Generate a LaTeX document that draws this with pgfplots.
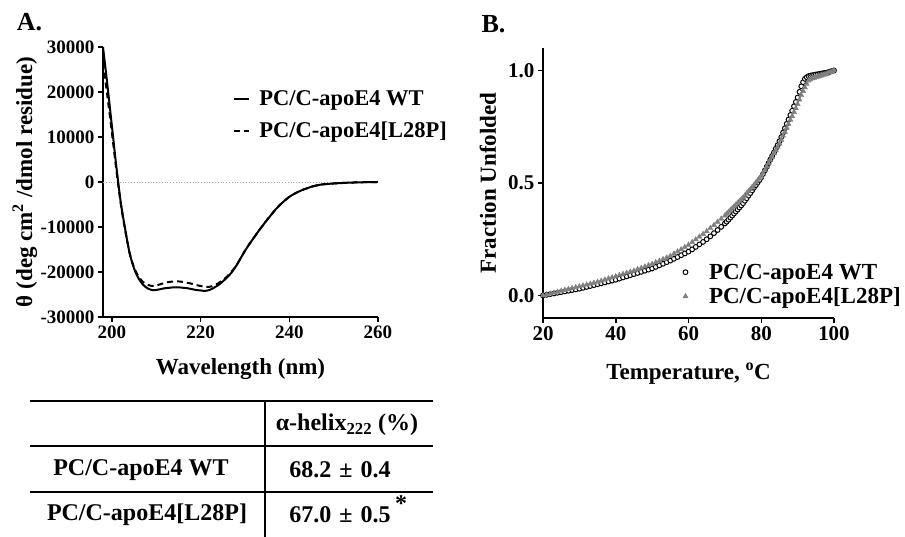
\documentclass[border=0pt]{standalone}
\usepackage{pgfplots}
\pgfplotsset{compat=1.18}
\usepackage{pgfplotstable}
\usepackage{fontspec}
\setmainfont{Liberation Serif}

% CD spectra (mean residue ellipticity)
\pgfplotstableread{
nm WT L28P
198 30000 26500
199 21500 19000
200 12500 11000
201 3500 2800
202 -4500 -4800
203 -10500 -10700
204 -15800 -15800
205 -19200 -19000
206 -21400 -21000
207 -22800 -22200
208 -23600 -22800
209 -24000 -23100
210 -24000 -23000
211 -23800 -22700
212 -23600 -22400
213 -23500 -22200
214 -23400 -22100
215 -23400 -22100
216 -23500 -22200
217 -23600 -22400
218 -23800 -22600
219 -24000 -22900
220 -24100 -23100
221 -24200 -23300
222 -24000 -23300
223 -23500 -23000
224 -22900 -22500
225 -22100 -21800
226 -21200 -21000
227 -20100 -19900
228 -18700 -18600
229 -17000 -17000
230 -15300 -15300
231 -13800 -13800
232 -12400 -12400
233 -11000 -11000
234 -9700 -9700
235 -8400 -8400
236 -7200 -7200
237 -6000 -6000
238 -5000 -5000
239 -4100 -4100
240 -3300 -3300
241 -2700 -2700
242 -2200 -2200
243 -1750 -1750
244 -1400 -1400
245 -1050 -1050
246 -800 -800
247 -600 -600
248 -480 -480
249 -400 -400
250 -330 -330
251 -270 -270
252 -220 -220
253 -170 -170
254 -130 -130
255 -100 -100
256 -70 -70
257 -50 -50
258 -30 -30
259 -10 -10
260 0 0
}\cddata

% thermal denaturation, fraction unfolded
\pgfplotstableread{
T WT L28P
20 0.000 0.000
21 0.003 0.004
22 0.006 0.008
23 0.009 0.012
24 0.012 0.016
25 0.015 0.020
26 0.018 0.024
27 0.021 0.028
28 0.024 0.032
29 0.027 0.036
30 0.030 0.040
31 0.034 0.044
32 0.038 0.048
33 0.042 0.052
34 0.046 0.056
35 0.050 0.060
36 0.054 0.065
37 0.058 0.070
38 0.062 0.075
39 0.066 0.080
40 0.070 0.085
41 0.075 0.090
42 0.080 0.095
43 0.085 0.100
44 0.090 0.105
45 0.095 0.110
46 0.100 0.116
47 0.105 0.122
48 0.110 0.128
49 0.115 0.134
50 0.120 0.140
51 0.127 0.147
52 0.134 0.154
53 0.141 0.161
54 0.148 0.168
55 0.155 0.175
56 0.163 0.185
57 0.171 0.195
58 0.179 0.205
59 0.187 0.215
60 0.195 0.225
61 0.205 0.237
62 0.216 0.249
63 0.227 0.261
64 0.238 0.273
65 0.250 0.285
66 0.263 0.299
67 0.277 0.313
68 0.291 0.327
69 0.305 0.341
70 0.320 0.355
70.5 0.328 0.363
71 0.337 0.371
71.5 0.346 0.379
72 0.355 0.387
72.5 0.364 0.395
73 0.373 0.403
73.5 0.382 0.411
74 0.391 0.419
74.5 0.400 0.427
75 0.410 0.435
75.5 0.421 0.444
76 0.432 0.453
76.5 0.444 0.463
77 0.455 0.472
77.5 0.467 0.482
78 0.479 0.491
78.5 0.490 0.501
79 0.502 0.511
79.5 0.513 0.520
80 0.525 0.530
80.5 0.540 0.544
81 0.556 0.558
81.5 0.572 0.573
82 0.588 0.587
82.5 0.604 0.602
83 0.620 0.616
83.5 0.636 0.631
84 0.652 0.645
84.5 0.668 0.660
85 0.685 0.675
85.5 0.704 0.692
86 0.724 0.710
86.5 0.743 0.727
87 0.763 0.745
87.5 0.782 0.762
88 0.802 0.780
88.5 0.821 0.797
89 0.841 0.815
89.5 0.860 0.832
90 0.880 0.850
90.5 0.905 0.870
91 0.930 0.890
91.5 0.948 0.908
92 0.963 0.925
92.5 0.970 0.940
93 0.975 0.955
93.5 0.977 0.960
94 0.979 0.965
94.5 0.980 0.967
95 0.982 0.970
95.5 0.983 0.972
96 0.985 0.975
96.5 0.986 0.977
97 0.988 0.980
97.5 0.989 0.982
98 0.990 0.985
98.5 0.993 0.989
99 0.995 0.992
99.5 0.998 0.996
100 1.000 1.000
}\meltdata

\pgfplotsset{
  prism/.style={
    scale only axis, clip=false,
    axis lines=left,
    axis line style={-, line width=1.5pt},
    tick align=outside,
    major tick length=5pt,
    major tick style={black, line width=1.5pt},
    scaled ticks=false,
    every axis x label/.style={font=\fontsize{23}{23}\selectfont\bfseries, anchor=center},
    every axis y label/.style={font=\fontsize{23}{23}\selectfont\bfseries, anchor=center, rotate=90},
    legend cell align=left,
  }
}

\begin{document}
\begin{tikzpicture}[x=1pt,y=1pt]
\useasboundingbox (0,0) rectangle (905,537);

% panel A: CD spectra
\begin{axis}[prism,
  at={(103pt,220pt)}, anchor=south west,
  width=275pt, height=270pt,
  xmin=198, xmax=260, ymin=-30000, ymax=30000,
  ticklabel style={font=\fontsize{19}{19}\selectfont\bfseries},
  xtick={200,220,240,260}, xticklabels={200,220,240,260},
  ytick={-30000,-20000,-10000,0,10000,20000,30000},
  yticklabels={-30000,-20000,-10000,0,10000,20000,30000},
  xlabel={Wavelength (nm)},
  ylabel={θ (deg cm\textsuperscript{2} /dmol residue)},
  x label style={at={(axis description cs:0.5,-0.193)}},
  y label style={at={(axis description cs:-0.284,0.5)}},
  legend image code/.code={\draw[#1] (0pt,0pt) -- (15pt,0pt);},
  legend style={draw=none, fill=none, inner sep=0pt,
    at={(axis description cs:0.473,0.843)}, anchor=north west,
    font=\fontsize{22.5}{22.5}\selectfont\bfseries,
    row sep=13pt, column sep=8pt, nodes={inner sep=1pt}},
]
\addplot[forget plot, gray!70, dotted, line width=0.8pt] coordinates {(198,0) (260,0)};
\addplot[black, line width=2pt, smooth] table[x=nm, y=WT] {\cddata};
\addlegendentry{PC/C-apoE4 WT}
\addplot[black, line width=2pt, smooth, dash pattern=on 6pt off 4pt] table[x=nm, y=L28P] {\cddata};
\addlegendentry{PC/C-apoE4[L28P]}
\end{axis}

% panel B: thermal unfolding
\begin{axis}[prism,
  at={(543pt,219pt)}, anchor=south west,
  width=291pt, height=270pt,
  xmin=20, xmax=100, ymin=-0.1, ymax=1.1,
  ticklabel style={font=\fontsize{21}{21}\selectfont\bfseries},
  xtick={20,40,60,80,100}, xticklabels={20,40,60,80,100},
  ytick={0,0.5,1}, yticklabels={0.0,0.5,1.0},
  xlabel={Temperature, \textsuperscript{o}C},
  ylabel={Fraction Unfolded},
  x label style={at={(axis description cs:0.5,-0.207)}},
  y label style={at={(axis description cs:-0.189,0.5)}},
  legend style={draw=none, fill=none, inner sep=0pt,
    at={(axis description cs:0.48,0.205)}, anchor=north west,
    font=\fontsize{23}{23}\selectfont\bfseries,
    row sep=5pt, column sep=20pt, nodes={inner sep=1pt}},
]
\addplot[only marks, mark=*, mark size=2.4pt,
  mark options={fill=white, draw=black, line width=1pt}] table[x=T, y=WT] {\meltdata};
\addlegendentry{PC/C-apoE4 WT}
\addplot[only marks, mark=triangle*, mark size=3pt, gray,
  mark options={fill=gray, draw=gray}] table[x=T, y=L28P] {\meltdata};
\addlegendentry{PC/C-apoE4[L28P]}
\end{axis}

% panel letters
\node[font=\fontsize{26}{26}\selectfont\bfseries] at (29.5,514.5) {A.};
\node[font=\fontsize{26}{26}\selectfont\bfseries] at (493.5,513) {B.};

% summary table under panel A
\draw[line width=1.6pt] (30,136) -- (433,136);
\draw[line width=1.6pt] (30,91) -- (433,91);
\draw[line width=1.6pt] (30,45) -- (433,45);
\draw[line width=1.3pt] (265,136) -- (265,0);
\begin{scope}[every node/.style={font=\fontsize{24}{24}\selectfont\bfseries}]
\node at (347,112) {α-helix\textsubscript{222} (\%)};
\node at (141,67) {PC/C-apoE4 WT};
\node at (340,67) {68.2\,\,±\,\,0.4};
\node at (147,22) {PC/C-apoE4[L28P]};
\node at (340,22) {67.0\,\,±\,\,0.5};
\node at (401,33) {*};
\end{scope}
\end{tikzpicture}
\end{document}
